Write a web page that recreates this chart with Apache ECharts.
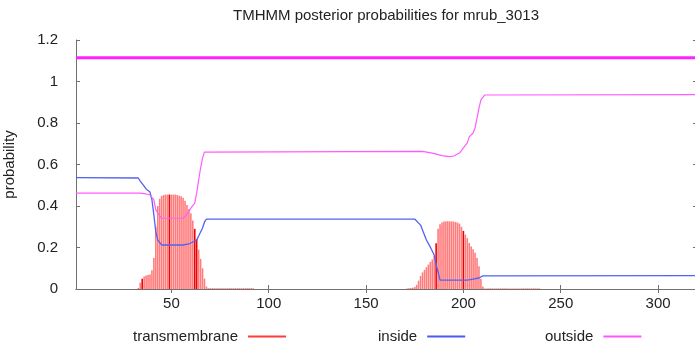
<!DOCTYPE html>
<html>
<head>
<meta charset="utf-8">
<script src="https://cdn.jsdelivr.net/npm/echarts@6/dist/echarts.min.js"></script>
<style>html,body{margin:0;padding:0;background:#fff}#c{width:695px;height:347px}</style>
</head>
<body>
<div id="c"></div>
<script>
// ---- data ----
const titleText = 'TMHMM posterior probabilities for mrub_3013';
const seqStart = 1, seqEnd = 320;
const xTickValues = [50, 100, 150, 200, 250, 300];
const seriesNames = ['transmembrane', 'inside', 'outside'];

// transmembrane posterior (per residue, nonzero stretches)
const tmStart1 = 33;
const tmValues1 = [0.005,0.03,0.05,0.06,0.065,0.068,0.07,0.09,0.15,0.30,0.40,0.435,0.448,0.453,0.455,0.455,0.455,0.455,0.455,0.455,0.453,0.45,0.447,0.44,0.425,0.405,0.385,0.365,0.33,0.29,0.24,0.19,0.145,0.10,0.05,0.012,
  0.004,0.004,0.004,0.004,0.004,0.004,0.004,0.004,0.004,0.004,0.004,0.004,0.004,0.004,0.004,0.004,0.004,0.004,0.004,0.004,0.004,0.004,0.004,0.004];
const tmStart2 = 171;
const tmValues2 = [0.003,0.004,0.005,0.006,0.01,0.02,0.04,0.063,0.08,0.092,0.105,0.118,0.13,0.142,0.16,0.22,0.29,0.312,0.32,0.325,0.326,0.326,0.326,0.326,0.325,0.323,0.32,0.315,0.30,0.28,0.262,0.245,0.222,0.205,0.192,0.175,0.15,0.11,0.05,0.012,
  0.003,0.003,0.003,0.003,0.003,0.003,0.003,0.003,0.003,0.003,0.003,0.003,0.003,0.003,0.003,0.003,0.003,0.003,0.003,0.003,0.003,0.003,0.003,0.003,0.003,0.003,0.003,0.003,0.003];
const tmDarkResidues = [35, 49, 62, 63, 186, 200];

// inside posterior (residue, probability) breakpoints
const insidePoints = [[1,0.537],[33,0.535],[34,0.52],[36,0.496],[37,0.482],[39,0.467],[40,0.43],[41,0.357],[42,0.275],[43,0.236],[45,0.212],[56,0.212],[59,0.217],[63,0.236],[64,0.255],[66,0.294],[67,0.323],[68,0.337],
  [175,0.337],[176,0.328],[178,0.308],[180,0.26],[181,0.236],[183,0.202],[185,0.164],[186,0.116],[187,0.082],[188,0.043],[202,0.043],[205,0.048],[208,0.053],[210,0.063],[211,0.064],[320,0.064]];

// outside posterior (residue, probability) breakpoints
const outsidePoints = [[1,0.462],[34,0.462],[37,0.458],[39,0.453],[41,0.429],[42,0.381],[44,0.352],[45,0.341],[56,0.341],[58,0.361],[60,0.39],[62,0.414],[63,0.463],[64,0.525],[65,0.583],[66,0.631],[67,0.66],[68,0.663],
  [179,0.663],[184,0.655],[189,0.643],[193,0.638],[195,0.641],[198,0.655],[200,0.68],[202,0.704],[203,0.733],[205,0.752],[206,0.776],[207,0.824],[208,0.872],[209,0.911],[211,0.935],[212,0.937],[320,0.937]];

// predicted topology line (outside over whole sequence)
const topologyLevel = 1.115;
const topologySegment = [1, 320];

// ---- build ----
function tmPairs(start, vals){ return vals.map((v,i)=>[start+i, v]); }
const tmData = tmPairs(tmStart1, tmValues1).concat(tmPairs(tmStart2, tmValues2));

const txt = {fontFamily:'Liberation Sans, Arial, sans-serif', fontSize:15, color:'#222'};
const axisLineStyle = {color:'#707070', width:1};

const chart = echarts.init(document.getElementById('c'), null, {renderer:'canvas'});
function legendFor(name, left, color){
  return {
    left: left, top: 329, orient:'horizontal', align:'right', padding:0,
    icon:'rect', itemWidth:38, itemHeight:2,
    textStyle:Object.assign({}, txt, {padding:[0,5,0,0]}),
    data:[{name:name, itemStyle:{color:color}}],
    selectedMode:false
  };
}
chart.setOption({
  animation:false,
  title:{text:titleText, left:386, textAlign:'center', top:8, padding:0,
    textStyle:Object.assign({}, txt, {fontWeight:'normal'})},
  legend:[
    legendFor(seriesNames[0], 133, '#ff3a3a'),
    legendFor(seriesNames[1], 378, '#4a5cf0'),
    legendFor(seriesNames[2], 545, '#ff55ff')
  ],
  grid:{left:76, top:40, width:621, height:249, containLabel:false, outerBoundsMode:'none'},
  xAxis:[
    {type:'value', min:seqStart, max:seqEnd, position:'bottom',
     axisLine:{show:true, lineStyle:axisLineStyle},
     axisTick:{show:true, inside:true, length:4, customValues:xTickValues, lineStyle:axisLineStyle},
     axisLabel:Object.assign({customValues:xTickValues, margin:7}, txt),
     splitLine:{show:false}},
    {type:'value', min:seqStart, max:seqEnd, position:'top',
     axisLine:{show:true, lineStyle:axisLineStyle},
     axisTick:{show:true, inside:true, length:4, customValues:xTickValues, lineStyle:axisLineStyle},
     axisLabel:{show:false}, splitLine:{show:false}}
  ],
  yAxis:[
    {type:'value', min:0, max:1.2, interval:0.2, position:'left',
     name:'probability', nameLocation:'middle', nameGap:59, nameRotate:90,
     nameTextStyle:txt,
     axisLine:{show:true, lineStyle:axisLineStyle},
     axisTick:{show:true, inside:true, length:4, lineStyle:axisLineStyle},
     axisLabel:Object.assign({margin:18}, txt),
     splitLine:{show:false}},
    {type:'value', min:0, max:1.2, interval:0.2, position:'right',
     axisLine:{show:true, lineStyle:axisLineStyle},
     axisTick:{show:true, inside:true, length:4, lineStyle:axisLineStyle},
     axisLabel:{show:false}, splitLine:{show:false}}
  ],
  series:[
    {name:seriesNames[0], type:'bar', xAxisIndex:0, yAxisIndex:0, barWidth:1.6,
     data:tmData,
     itemStyle:{color:function(p){ return tmDarkResidues.indexOf(p.data[0])>=0 ? '#f00000' : '#ff7c7c'; }},
     z:2},
    {name:seriesNames[1], type:'line', data:insidePoints, symbol:'none',
     lineStyle:{color:'#5263f2', width:1.3}, itemStyle:{color:'#5263f2'}, z:3},
    {name:seriesNames[2], type:'line', data:outsidePoints, symbol:'none',
     lineStyle:{color:'#ff5cff', width:1.2}, itemStyle:{color:'#ff5cff'}, z:3},
    {name:'topology', type:'line', data:[[topologySegment[0], topologyLevel],[topologySegment[1], topologyLevel]],
     symbol:'none', lineStyle:{color:'#ff22ff', width:3}, z:3}
  ]
});
</script>
</body>
</html>
